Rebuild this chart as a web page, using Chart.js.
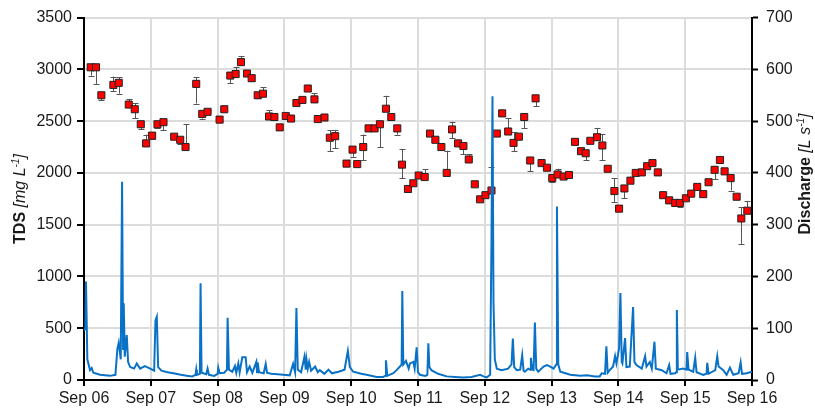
<!DOCTYPE html>
<html>
<head>
<meta charset="utf-8">
<script src="https://cdn.jsdelivr.net/npm/chart.js@4/dist/chart.umd.min.js"></script>
<style>
  html, body { margin: 0; padding: 0; background: #fff; }
  #wrap { width: 815px; height: 412px; }
</style>
</head>
<body>
<div id="wrap"><canvas id="tdsChart" width="815" height="412"></canvas></div>
<script>
// ================= DATA =================
// time axis in days after Sep 06 00:00
const dayLabels = ["Sep 06", "Sep 07", "Sep 08", "Sep 09", "Sep 10", "Sep 11",
                   "Sep 12", "Sep 13", "Sep 14", "Sep 15", "Sep 16"];

// TDS samples [mg/L] with error bar extents (up / down)
const tdsTime = [
  0.10, 0.18, 0.26, 0.44, 0.52, 0.67, 0.76, 0.85, 0.93, 1.02,
  1.10, 1.19, 1.35, 1.44, 1.52, 1.68, 1.77, 1.85, 2.03, 2.10,
  2.19, 2.27, 2.35, 2.44, 2.51, 2.60, 2.68, 2.77, 2.85, 2.93,
  3.02, 3.10, 3.18, 3.27, 3.35, 3.45, 3.50, 3.60, 3.68, 3.76,
  3.93, 4.02, 4.09, 4.18, 4.26, 4.35, 4.43, 4.52, 4.60, 4.69,
  4.76, 4.85, 4.93, 5.01, 5.10, 5.18, 5.26, 5.35, 5.43, 5.51,
  5.60, 5.68, 5.76, 5.85, 5.93, 6.01, 6.10, 6.18, 6.26, 6.35,
  6.43, 6.51, 6.59, 6.68, 6.76, 6.85, 6.93, 7.01, 7.09, 7.18,
  7.26, 7.35, 7.44, 7.51, 7.58, 7.68, 7.76, 7.84, 7.94, 8.01,
  8.09, 8.18, 8.26, 8.35, 8.43, 8.51, 8.59, 8.67, 8.76, 8.85,
  8.92, 9.01, 9.09, 9.18, 9.27, 9.35, 9.44, 9.52, 9.59, 9.68,
  9.77, 9.84, 9.93
];
const tdsValue = [
  3020, 3020, 2750, 2850, 2870, 2660, 2615, 2470, 2285, 2360,
  2470, 2490, 2350, 2320, 2250, 2860, 2570, 2590, 2515, 2615,
  2940, 2955, 3070, 2960, 2915, 2750, 2765, 2545, 2540, 2440,
  2550, 2525, 2675, 2705, 2815, 2710, 2520, 2535, 2340, 2355,
  2090, 2225, 2085, 2250, 2430, 2430, 2470, 2620, 2540, 2430,
  2080, 1845, 1900, 1975, 1960, 2380, 2320, 2250, 2000, 2420,
  2285, 2260, 2130, 1890, 1745, 1785, 1830, 2380, 2575, 2400,
  2290, 2350, 2540, 2120, 2720, 2095, 2050, 1950, 1985, 1965,
  1980, 2300, 2210, 2190, 2310, 2345, 2265, 2040, 1825, 1655,
  1850, 1925, 2000, 2005, 2065, 2095, 2005, 1785, 1735, 1710,
  1710, 1755, 1800, 1865, 1795, 1910, 2030, 2125, 2015, 1950,
  1770, 1560, 1635
];
const tdsPlus = [
  0, 0, 0, 80, 55, 55, 60, 0, 85, 20,
  0, 0, 0, 0, 220, 65, 0, 20, 0, 35,
  0, 70, 60, 0, 30, 0, 60, 60, 0, 0,
  0, 0, 40, 20, 0, 60, 0, 0, 70, 60,
  0, 0, 0, 120, 0, 0, 30, 125, 0, 0,
  150, 0, 0, 0, 75, 0, 0, 0, 215, 75,
  0, 0, 50, 0, 0, 0, 225, 0, 0, 130,
  105, 0, 0, 0, 0, 0, 15, 0, 55, 0,
  0, 0, 0, 0, 20, 90, 110, 0, 125, 0,
  0, 40, 20, 0, 0, 0, 0, 0, 0, 0,
  0, 0, 0, 0, 0, 0, 0, 30, 0, 0,
  0, 110, 95
];
const tdsMinus = [
  80, 160, 50, 60, 105, 20, 85, 50, 0, 30,
  40, 75, 20, 40, 0, 190, 45, 0, 15, 0,
  75, 0, 0, 20, 30, 30, 0, 0, 30, 15,
  15, 15, 0, 0, 0, 0, 15, 15, 130, 115,
  20, 70, 0, 130, 0, 0, 220, 0, 30, 60,
  130, 0, 0, 0, 0, 15, 20, 15, 0, 85,
  20, 80, 0, 0, 0, 0, 0, 15, 0, 0,
  80, 20, 110, 105, 75, 15, 0, 40, 0, 0,
  0, 0, 15, 65, 0, 0, 140, 0, 110, 0,
  95, 0, 0, 0, 0, 0, 0, 0, 0, 0,
  40, 0, 0, 0, 0, 0, 90, 0, 0, 120,
  0, 245, 0
];

// Discharge [L/s]
const qTime = [
  0.00, 0.02, 0.03, 0.05, 0.09, 0.115, 0.14, 0.24, 0.39, 0.47,
  0.50, 0.52, 0.55, 0.57, 0.585, 0.595, 0.61, 0.64, 0.66, 0.69,
  0.75, 0.79, 0.84, 0.91, 0.96, 0.99, 1.05, 1.07, 1.09, 1.11,
  1.16, 1.25, 1.34, 1.45, 1.54, 1.62, 1.67, 1.68, 1.69, 1.735,
  1.745, 1.76, 1.83, 1.85, 1.87, 1.95, 2.00, 2.01, 2.03, 2.10,
  2.14, 2.15, 2.17, 2.22, 2.26, 2.28, 2.31, 2.33, 2.37, 2.42,
  2.44, 2.48, 2.52, 2.58, 2.59, 2.60, 2.62, 2.69, 2.72, 2.74,
  2.80, 2.90, 2.98, 3.08, 3.13, 3.16, 3.18, 3.20, 3.25, 3.30,
  3.32, 3.33, 3.35, 3.37, 3.40, 3.46, 3.50, 3.53, 3.60, 3.66,
  3.71, 3.81, 3.90, 3.95, 3.98, 4.03, 4.15, 4.23, 4.38, 4.48,
  4.51, 4.52, 4.54, 4.63, 4.68, 4.73, 4.755, 4.765, 4.78, 4.82,
  4.86, 4.88, 4.93, 4.95, 4.98, 5.00, 5.03, 5.11, 5.14, 5.155,
  5.17, 5.20, 5.30, 5.43, 5.55, 5.68, 5.80, 5.93, 5.98, 6.03,
  6.08, 6.10, 6.115, 6.13, 6.15, 6.18, 6.25, 6.35, 6.40, 6.42,
  6.44, 6.48, 6.53, 6.56, 6.58, 6.60, 6.65, 6.68, 6.69, 6.71,
  6.73, 6.75, 6.77, 6.80, 6.88, 6.93, 6.98, 7.03, 7.07, 7.08,
  7.10, 7.13, 7.28, 7.43, 7.53, 7.65, 7.72, 7.75, 7.80, 7.82,
  7.84, 7.87, 7.92, 7.95, 7.97, 8.01, 8.03, 8.05, 8.06, 8.10,
  8.12, 8.17, 8.22, 8.24, 8.27, 8.35, 8.40, 8.42, 8.47, 8.50,
  8.54, 8.56, 8.65, 8.72, 8.76, 8.78, 8.85, 8.865, 8.875, 8.89,
  8.97, 9.02, 9.03, 9.05, 9.12, 9.15, 9.17, 9.27, 9.32, 9.33,
  9.35, 9.45, 9.48, 9.50, 9.57, 9.62, 9.67, 9.72, 9.80, 9.83,
  9.85, 9.92, 10.0
];
const qValue = [
  95, 100, 190, 40, 19, 23, 14, 10, 8, 10,
  60, 72, 40, 383, 60, 148, 45, 87, 35, 25,
  22, 32, 22, 27, 24, 22, 18, 115, 122, 25,
  18, 15, 13, 10, 8, 7, 10, 20, 10, 12,
  187, 14, 11, 22, 10, 8, 12, 24, 13, 14,
  20, 120, 20, 16, 27, 14, 32, 15, 44, 44,
  15, 26, 14, 35, 15, 34, 15, 13, 31, 14,
  12, 11, 10, 9, 31, 15, 139, 20, 15, 45,
  20, 40, 22, 35, 18, 26, 15, 19, 12, 20,
  13, 16, 20, 56, 25, 16, 12, 10, 6, 6,
  8, 38, 8, 13, 19, 26, 30, 172, 30, 37,
  22, 32, 35, 22, 63, 15, 10, 8, 10, 71,
  25, 19, 12, 7, 6, 5, 6, 10, 7, 5,
  10, 270, 548, 150, 40, 22, 19, 22, 30, 80,
  25, 19, 20, 48, 18, 16, 22, 20, 43, 20,
  19, 111, 22, 16, 26, 29, 26, 22, 30, 335,
  30, 16, 10, 8, 9, 7, 7, 13, 12, 65,
  14, 19, 26, 46, 32, 61, 168, 35, 32, 81,
  25, 26, 141, 35, 29, 22, 46, 26, 35, 22,
  74, 22, 19, 13, 29, 12, 13, 15, 135, 20,
  22, 20, 54, 20, 16, 43, 15, 10, 12, 33,
  12, 19, 46, 26, 19, 10, 24, 10, 13, 34,
  12, 13, 16
];

const tickFont = { family: "Liberation Sans", size: 16 };
const tickColor = "#1a1a1a";

// ================= ERROR BARS =================
const errorBars = {
    id: "errorBars",
    beforeDatasetDraw(chart, args){
        if(args.index !== 0) return;
        const ctx = chart.ctx;
        const xs = chart.scales.x;
        const ys = chart.scales.y;
        ctx.save();
        ctx.strokeStyle = "#555";
        ctx.lineWidth = 1;
        tdsTime.forEach((t, i) => {
            if(!tdsPlus[i] && !tdsMinus[i]) return;
            const px = Math.round(xs.getPixelForValue(t)) + 0.5;
            const top = ys.getPixelForValue(tdsValue[i] + tdsPlus[i]);
            const bot = ys.getPixelForValue(tdsValue[i] - tdsMinus[i]);
            ctx.beginPath();
            ctx.moveTo(px, top);
            ctx.lineTo(px, bot);
            if(tdsPlus[i]){
                ctx.moveTo(px - 3, Math.round(top) + 0.5);
                ctx.lineTo(px + 3, Math.round(top) + 0.5);
            }
            if(tdsMinus[i]){
                ctx.moveTo(px - 3, Math.round(bot) + 0.5);
                ctx.lineTo(px + 3, Math.round(bot) + 0.5);
            }
            ctx.stroke();
        });
        ctx.restore();
    }
};

// ================= AXIS TITLES (mixed bold / italic) =================
function drawVerticalTitle(ctx, parts, cx, cy){
    let total = 0;
    parts.forEach(p => {
        ctx.font = p.font;
        p.w = ctx.measureText(p.text).width;
        total += p.w;
    });
    ctx.save();
    ctx.translate(cx, cy);
    ctx.rotate(-Math.PI / 2);
    ctx.fillStyle = "#1a1a1a";
    ctx.textBaseline = "middle";
    ctx.textAlign = "left";
    let pos = -total / 2;
    parts.forEach(p => {
        ctx.font = p.font;
        ctx.fillText(p.text, pos, p.dy || 0);
        pos += p.w;
    });
    ctx.restore();
}

const axisTitles = {
    id: "axisTitles",
    afterDraw(chart){
        const ctx = chart.ctx;
        const b = "bold 16px 'Liberation Sans'";
        const it = "italic 16px 'Liberation Sans'";
        const sup = "italic 10px 'Liberation Sans'";
        drawVerticalTitle(ctx, [
            { text: "TDS ", font: b },
            { text: "[mg L", font: it },
            { text: "-1", font: sup, dy: -5 },
            { text: "]", font: it }
        ], 21, 199);
        drawVerticalTitle(ctx, [
            { text: "Discharge ", font: b },
            { text: "[L s", font: it },
            { text: "-1", font: sup, dy: -5 },
            { text: "]", font: it }
        ], 806, 174);
    }
};

// ================= CHART =================
const tdsPoints = tdsTime.map((t, i) => ({ x: t, y: tdsValue[i] }));
const qPoints = qTime.map((t, i) => ({ x: t, y: qValue[i] }));

new Chart(document.getElementById("tdsChart"), {
    type: "scatter",
    data: {
        datasets: [
            {
                label: "TDS",
                data: tdsPoints,
                yAxisID: "y",
                pointStyle: "rect",
                pointRadius: 5,
                backgroundColor: "#ff0000",
                borderColor: "#222",
                borderWidth: 1,
                order: 1
            },
            {
                label: "Discharge",
                type: "line",
                data: qPoints,
                yAxisID: "y1",
                borderColor: "#0a72c6",
                borderWidth: 2,
                pointRadius: 0,
                tension: 0,
                fill: false,
                order: 0
            }
        ]
    },
    options: {
        responsive: false,
        animation: false,
        devicePixelRatio: 1,
        layout: { padding: { top: 16, left: 0, right: 0, bottom: 0 } },
        plugins: {
            legend: { display: false },
            tooltip: { enabled: false }
        },
        scales: {
            x: {
                type: "linear",
                min: 0,
                max: 10,
                afterFit(scale){ scale.height = 32; },
                ticks: {
                    stepSize: 1,
                    autoSkip: false,
                    maxRotation: 0,
                    padding: 3,
                    font: tickFont,
                    color: tickColor,
                    callback: v => dayLabels[v]
                },
                grid: { color: "#dcdcdc", lineWidth: 2, tickColor: "#000", tickLength: 6, tickWidth: 2 },
                border: { color: "#000", width: 2 }
            },
            y: {
                position: "left",
                min: 0,
                max: 3500,
                afterFit(scale){ scale.width = 84; },
                ticks: { stepSize: 500, padding: 5, font: tickFont, color: tickColor, callback: v => String(v) },
                grid: { color: "#dcdcdc", lineWidth: 2, tickColor: "#000", tickLength: 7, tickWidth: 2 },
                border: { color: "#000", width: 2 }
            },
            y1: {
                position: "right",
                min: 0,
                max: 700,
                afterFit(scale){ scale.width = 63; },
                ticks: { stepSize: 100, padding: 8, font: tickFont, color: tickColor, callback: v => String(v) },
                grid: { drawOnChartArea: false, tickColor: "#000", tickLength: 6, tickWidth: 2 },
                border: { color: "#000", width: 2 }
            }
        }
    },
    plugins: [errorBars, axisTitles]
});
</script>
</body>
</html>
